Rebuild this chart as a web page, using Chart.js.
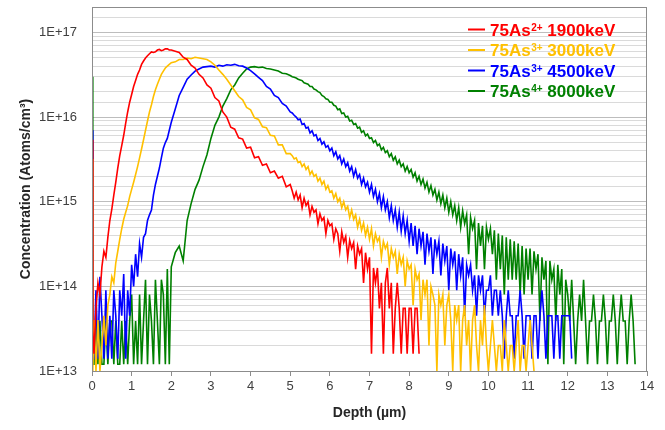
<!DOCTYPE html>
<html>
<head>
<meta charset="utf-8">
<script src="https://cdn.jsdelivr.net/npm/chart.js@4/dist/chart.umd.min.js"></script>
<style>
  html, body { margin: 0; padding: 0; background: #fff; }
  canvas { display: block; }
</style>
</head>
<body>
<canvas id="profileChart" width="665" height="430"></canvas>
<script>
// Depth (µm) shared by all four profiles: 0.05 steps near the surface and in the noisy tails
const depth = [0, 0.02,
    0.05, 0.1, 0.15, 0.2, 0.25, 0.3, 0.35, 0.4, 0.45, 0.5, 0.55, 0.6, 0.65, 0.7, 0.75, 0.8, 0.85, 0.9, 0.95, 1.0,
    1.05, 1.1, 1.15, 1.2, 1.25, 1.3, 1.35, 1.4, 1.45, 1.5, 1.55, 1.6, 1.65, 1.7, 1.75, 1.8, 1.85, 1.9, 1.95, 2.0,
    2.1, 2.2, 2.3, 2.4, 2.5, 2.6, 2.7, 2.8, 2.9, 3.0,
    3.1, 3.2, 3.3, 3.4, 3.5, 3.6, 3.7, 3.8, 3.9, 4.0,
    4.1, 4.2, 4.3, 4.4, 4.5, 4.6, 4.7, 4.8, 4.9, 5.0,
    5.05, 5.1, 5.15, 5.2, 5.25, 5.3, 5.35, 5.4, 5.45, 5.5, 5.55, 5.6, 5.65, 5.7, 5.75, 5.8, 5.85, 5.9, 5.95, 6.0,
    6.05, 6.1, 6.15, 6.2, 6.25, 6.3, 6.35, 6.4, 6.45, 6.5, 6.55, 6.6, 6.65, 6.7, 6.75, 6.8, 6.85, 6.9, 6.95, 7.0,
    7.05, 7.1, 7.15, 7.2, 7.25, 7.3, 7.35, 7.4, 7.45, 7.5, 7.55, 7.6, 7.65, 7.7, 7.75, 7.8, 7.85, 7.9, 7.95, 8.0,
    8.05, 8.1, 8.15, 8.2, 8.25, 8.3, 8.35, 8.4, 8.45, 8.5, 8.55, 8.6, 8.65, 8.7, 8.75, 8.8, 8.85, 8.9, 8.95, 9.0,
    9.05, 9.1, 9.15, 9.2, 9.25, 9.3, 9.35, 9.4, 9.45, 9.5, 9.55, 9.6, 9.65, 9.7, 9.75, 9.8, 9.85, 9.9, 9.95, 10.0,
    10.05, 10.1, 10.15, 10.2, 10.25, 10.3, 10.35, 10.4, 10.45, 10.5, 10.55, 10.6, 10.65, 10.7, 10.75, 10.8, 10.85, 10.9, 10.95, 11.0,
    11.05, 11.1, 11.15, 11.2, 11.25, 11.3, 11.35, 11.4, 11.45, 11.5, 11.55, 11.6, 11.65, 11.7, 11.75, 11.8, 11.85, 11.9, 11.95, 12.0,
    12.05, 12.1, 12.15, 12.2, 12.25, 12.3, 12.35, 12.4, 12.45, 12.5, 12.55, 12.6, 12.65, 12.7, 12.75, 12.8, 12.85, 12.9, 12.95, 13.0,
    13.05, 13.1, 13.15, 13.2, 13.25, 13.3, 13.35, 13.4, 13.45, 13.5, 13.55, 13.6, 13.65, 13.7];

// Concentrations (atoms/cm3), one value per depth point
const as1900 = [5.4e15, 3.0e13,
    1.6e13, 5.5e13, 1.1e14, 8.0e13, 1.7e14, 2.6e14, 2.2e14, 3.8e14, 6.0e14, 8.2e14,
    1.2e15, 1.7e15, 2.5e15, 3.5e15, 4.6e15, 6.1e15, 8.5e15, 1.15e16, 1.5e16, 1.85e16,
    2.3e16, 2.7e16, 3.2e16, 3.6e16, 4.2e16, 4.6e16, 5.0e16, 5.3e16, 5.6e16, 5.9e16,
    5.8e16, 5.9e16, 6.2e16, 6.3e16, 6.1e16, 6.2e16, 6.4e16, 6.4e16, 6.2e16, 6.2e16,
    6.0e16, 5.8e16, 5.1e16, 4.8e16, 4.1e16, 3.8e16, 3.2e16, 2.9e16, 2.4e16, 2.2e16,
    1.7e16, 1.55e16, 1.15e16, 1.0e16, 7.6e15, 7.2e15, 5.7e15, 5.5e15, 4.3e15, 4.4e15,
    3.3e15, 3.4e15, 2.7e15, 2.8e15, 2.2e15, 2.3e15, 1.9e15, 2.0e15, 1.5e15, 1.6e15,
    1.35e15, 1.1e15, 1.3e15, 1.05e15, 1.2e15, 8.5e14, 1.1e15, 9.0e14, 1.0e15, 7.0e14,
    8.8e14, 7.5e14, 8.0e14, 5.5e14, 7.2e14, 6.0e14, 6.5e14, 4.2e14, 6.0e14, 5.2e14,
    5.5e14, 3.6e14, 4.8e14, 4.2e14, 2.6e14, 4.4e14, 3.3e14, 3.9e14, 2.2e14, 3.5e14,
    2.8e14, 3.3e14, 1.6e14, 3.0e14, 2.4e14, 2.8e14, 1.1e14, 2.5e14, 1.6e14, 2.2e14,
    1.6e13, 1.65e14, 1.1e14, 1.65e14, 5.5e13, 1.1e14, 1.6e13, 1.1e14, 1.65e14, 5.5e13,
    1.1e14, 1.6e13, 5.5e13, 1.1e14, 5.5e13, 1.6e13, 5.5e13, 5.5e13, 1.6e13, 5.5e13,
    5.5e13, 1.6e13, 5.5e13, 5.5e13, 1.6e13];

const as3000 = [3.2e15, 1.0e13,
    4.0e13, 1.0e13, 4.0e13, 1.0e13, 2.0e13, 4.5e13, 2.0e13, 6.0e13, 8.0e13, 1.3e14,
    1.1e14, 1.9e14, 2.6e14, 3.6e14, 4.8e14, 6.2e14, 7.5e14, 9.0e14, 1.15e15, 1.4e15,
    1.7e15, 2.1e15, 2.6e15, 3.3e15, 4.2e15, 5.4e15, 7.0e15, 9.0e15, 1.15e16, 1.4e16,
    1.75e16, 2.1e16, 2.45e16, 2.8e16, 3.2e16, 3.5e16, 3.8e16, 4.0e16, 4.2e16, 4.4e16,
    4.5e16, 4.8e16, 4.8e16, 5.0e16, 4.9e16, 5.1e16, 5.0e16, 4.9e16, 4.8e16, 4.5e16,
    4.1e16, 3.6e16, 3.2e16, 2.8e16, 2.4e16, 2.05e16, 1.75e16, 1.6e16, 1.3e16, 1.22e16,
    9.8e15, 9.4e15, 7.7e15, 7.5e15, 6.1e15, 6.0e15, 4.7e15, 4.7e15, 3.7e15, 3.7e15,
    3.5e15, 3.2e15, 3.3e15, 2.9e15, 3.0e15, 2.6e15, 2.8e15, 2.4e15, 2.6e15, 2.1e15,
    2.3e15, 2.0e15, 2.1e15, 1.75e15, 1.9e15, 1.6e15, 1.75e15, 1.4e15, 1.55e15, 1.3e15,
    1.35e15, 1.1e15, 1.25e15, 1.0e15, 1.1e15, 8.5e14, 1.0e15, 8.0e14, 8.8e14, 6.5e14,
    8.0e14, 6.2e14, 7.0e14, 5.0e14, 6.2e14, 4.6e14, 5.6e14, 4.0e14, 5.0e14, 3.6e14,
    4.8e14, 3.0e14, 4.2e14, 3.4e14, 3.8e14, 2.2e14, 3.4e14, 2.8e14, 3.2e14, 1.8e14,
    2.8e14, 2.2e14, 2.6e14, 1.4e14, 2.4e14, 1.8e14, 2.2e14, 1.0e14, 2.0e14, 1.6e14,
    1.8e14, 6.0e13, 1.6e14, 1.2e14, 1.4e14, 4.0e13, 1.2e14, 8.0e13, 1.2e14, 2.0e13,
    1.0e14, 8.0e13, 6.0e13, 1.0e13, 8.0e13, 6.0e13, 8.0e13, 2.0e13, 6.0e13, 8.0e13,
    4.0e13, 1.0e13, 6.0e13, 4.0e13, 6.0e13, 1.0e13, 4.0e13, 6.0e13, 2.0e13, 4.0e13,
    1.0e13, 4.0e13, 6.0e13, 2.0e13, 1.0e13, 4.0e13, 2.0e13, 6.0e13, 2.0e13, 1.0e13,
    2.0e13, 4.0e13, 2.0e13, 1.0e13, 2.0e13, 2.0e13, 1.0e13, 4.0e13, 2.0e13, 1.0e13,
    2.0e13, 2.0e13, 1.0e13, 2.0e13, 4.0e13, 1.0e13, 2.0e13, 2.0e13, 1.0e13, 2.0e13,
    4.0e13, 2.0e13, 1.0e13];

const as4500 = [7.0e15, 1.4e13,
    1.4e13, 9.0e13, 1.4e13, 1.3e14, 4.5e13, 1.4e13, 9.0e13, 1.4e13, 4.5e13, 1.4e13,
    9.0e13, 4.5e13, 1.4e13, 9.0e13, 4.5e13, 1.4e14, 1.4e13, 9.0e13, 4.5e13, 1.8e14,
    1.0e14, 2.4e14, 1.3e14, 3.2e14, 2.2e14, 3.8e14, 4.2e14, 6.0e14, 7.0e14, 8.0e14,
    1.2e15, 1.6e15, 2.0e15, 2.5e15, 3.3e15, 4.3e15, 5.0e15, 5.6e15, 7.0e15, 8.7e15,
    1.25e16, 1.8e16, 2.25e16, 2.8e16, 3.15e16, 3.5e16, 3.7e16, 3.9e16, 3.95e16, 4.0e16,
    3.9e16, 4.1e16, 4.0e16, 4.15e16, 4.1e16, 4.2e16, 4.05e16, 4.0e16, 3.8e16, 3.55e16,
    3.25e16, 2.95e16, 2.7e16, 2.3e16, 2.15e16, 1.8e16, 1.7e16, 1.45e16, 1.35e16, 1.15e16,
    1.12e16, 1.05e16, 1.0e16, 9.3e15, 9.5e15, 8.2e15, 8.4e15, 7.4e15, 7.6e15, 6.5e15,
    6.9e15, 6.0e15, 6.2e15, 5.3e15, 5.6e15, 4.8e15, 5.1e15, 4.4e15, 4.6e15, 4.0e15,
    4.3e15, 3.5e15, 3.9e15, 3.2e15, 3.5e15, 2.8e15, 3.2e15, 2.6e15, 2.9e15, 2.3e15,
    2.6e15, 2.0e15, 2.4e15, 1.9e15, 2.1e15, 1.6e15, 1.9e15, 1.5e15, 1.7e15, 1.3e15,
    1.6e15, 1.15e15, 1.4e15, 1.0e15, 1.25e15, 8.5e14, 1.15e15, 8.0e14, 1.0e15, 6.5e14,
    9.0e14, 6.0e14, 8.0e14, 5.0e14, 7.5e14, 4.5e14, 6.8e14, 4.2e14, 6.0e14, 3.4e14,
    5.6e14, 3.0e14, 5.2e14, 2.4e14, 4.8e14, 3.0e14, 4.4e14, 1.8e14, 4.2e14, 2.6e14,
    3.8e14, 1.4e14, 3.6e14, 2.4e14, 3.4e14, 1.35e14, 3.2e14, 2.0e14, 3.0e14, 9.0e13,
    2.8e14, 1.8e14, 2.6e14, 9.0e13, 2.4e14, 1.35e14, 2.2e14, 4.5e13, 1.8e14, 1.35e14,
    1.8e14, 9.0e13, 1.35e14, 4.5e13, 1.35e14, 9.0e13, 1.35e14, 4.5e13, 9.0e13, 9.0e13,
    1.35e14, 4.5e13, 9.0e13, 9.0e13, 4.5e13, 9.0e13, 4.5e13, 1.4e13, 4.5e13, 9.0e13,
    4.5e13, 4.5e13, 1.4e13, 4.5e13, 4.5e13, 9.0e13, 4.5e13, 1.4e13, 4.5e13, 4.5e13,
    4.5e13, 1.4e13, 4.5e13, 4.5e13, 1.4e13, 4.5e13, 9.0e13, 4.5e13, 1.4e13, 4.5e13,
    4.5e13, 4.5e13, 1.4e13, 4.5e13, 4.5e13, 1.4e13, 4.5e13, 4.5e13, 4.5e13, 4.5e13,
    4.5e13, 1.4e13];

const as8000 = [3.0e16, 1.2e13,
    1.2e13, 3.9e13, 1.2e13, 3.9e13, 1.2e13, 1.2e13, 3.9e13, 1.2e13, 3.9e13, 3.9e13,
    1.2e13, 3.9e13, 1.2e13, 1.2e13, 3.9e13, 1.2e13, 3.9e13, 1.2e13, 3.9e13, 8.0e13,
    1.2e13, 3.9e13, 1.2e13, 8.0e13, 1.2e13, 3.9e13, 1.2e14, 1.2e13, 8.0e13, 3.9e13,
    1.2e13, 1.2e14, 3.9e13, 1.2e13, 1.2e14, 8.0e13, 1.2e13, 1.6e14, 1.2e13, 1.7e14,
    2.5e14, 3.0e14, 2.0e14, 6.0e14, 9.5e14, 1.4e15, 1.8e15, 2.6e15, 3.6e15, 5.6e15,
    8.0e15, 1.0e16, 1.35e16, 1.65e16, 2.1e16, 2.4e16, 2.9e16, 3.3e16, 3.7e16, 3.9e16,
    3.95e16, 3.85e16, 3.9e16, 3.75e16, 3.7e16, 3.6e16, 3.5e16, 3.3e16, 3.25e16, 3.1e16,
    3.0e16, 2.95e16, 2.9e16, 2.8e16, 2.75e16, 2.7e16, 2.55e16, 2.5e16, 2.45e16, 2.3e16,
    2.3e16, 2.15e16, 2.1e16, 2.0e16, 1.95e16, 1.8e16, 1.75e16, 1.65e16, 1.62e16, 1.5e16,
    1.5e16, 1.38e16, 1.35e16, 1.22e16, 1.25e16, 1.1e16, 1.12e16, 1.0e16, 1.02e16, 9.0e15,
    9.2e15, 8.2e15, 8.4e15, 7.4e15, 7.6e15, 6.6e15, 6.9e15, 6.0e15, 6.3e15, 5.6e15,
    5.7e15, 5.0e15, 5.3e15, 4.6e15, 4.8e15, 4.1e15, 4.4e15, 3.8e15, 4.0e15, 3.4e15,
    3.7e15, 3.1e15, 3.4e15, 2.8e15, 3.1e15, 2.6e15, 2.8e15, 2.3e15, 2.6e15, 2.2e15,
    2.4e15, 1.95e15, 2.2e15, 1.75e15, 2.0e15, 1.6e15, 1.85e15, 1.45e15, 1.7e15, 1.3e15,
    1.55e15, 1.2e15, 1.4e15, 1.05e15, 1.3e15, 9.5e14, 1.2e15, 8.5e14, 1.1e15, 7.5e14,
    1.0e15, 7.0e14, 9.0e14, 6.0e14, 8.5e14, 5.0e14, 7.8e14, 5.5e14, 7.0e14, 2.4e14,
    6.5e14, 4.8e14, 6.0e14, 1.6e14, 5.6e14, 3.0e14, 5.2e14, 1.6e14, 5.0e14, 3.6e14,
    4.8e14, 2.4e14, 4.6e14, 1.2e14, 4.2e14, 1.6e14, 4.0e14, 8.0e13, 3.8e14, 1.2e14,
    3.6e14, 1.2e14, 3.4e14, 1.2e14, 3.2e14, 8.0e13, 3.0e14, 8.0e13, 2.8e14, 1.2e14,
    2.8e14, 8.0e13, 2.6e14, 1.6e14, 2.4e14, 3.9e13, 2.2e14, 1.2e14, 2.0e14, 1.2e13,
    2.0e14, 1.2e14, 1.6e14, 3.9e13, 1.8e14, 8.0e13, 1.6e14, 1.2e13, 1.2e14, 8.0e13,
    3.9e13, 1.2e14, 3.9e13, 1.2e13, 3.9e13, 8.0e13, 3.9e13, 1.2e14, 3.9e13, 1.2e13,
    3.9e13, 3.9e13, 8.0e13, 3.9e13, 1.2e13, 3.9e13, 3.9e13, 8.0e13, 3.9e13, 1.2e13,
    3.9e13, 3.9e13, 8.0e13, 3.9e13, 1.2e13, 3.9e13, 8.0e13, 3.9e13, 3.9e13, 1.2e13,
    3.9e13, 8.0e13, 3.9e13, 1.2e13];

// Legend text pieces
const charges = ['2+', '3+', '3+', '4+'];
const energies = ['1900keV', '3000keV', '4500keV', '8000keV'];

// Axis tick labels
const yTickValues = [1e13, 1e14, 1e15, 1e16, 1e17];
const yTickLabels = ['1E+13', '1E+14', '1E+15', '1E+16', '1E+17'];

const seriesValues = [as1900, as3000, as4500, as8000];
const seriesColors = ['#FF0000', '#FFC000', '#0000FF', '#008000'];

const FONT = "'Liberation Sans', Arial, sans-serif";
Chart.defaults.font.family = FONT;

function decadeIndex(v) {
    return yTickValues.findIndex(t => Math.abs(v / t - 1) < 1e-6);
}

// Plot frame + legend drawn inside the plot area
const frameAndLegend = {
    id: 'frameAndLegend',
    afterDraw(chart) {
        const {ctx, chartArea: a} = chart;
        ctx.save();
        ctx.strokeStyle = '#8c8c8c';
        ctx.lineWidth = 1;
        ctx.strokeRect(a.left + 0.5, a.top + 0.5, a.right - a.left - 1, a.bottom - a.top);

        chart.data.datasets.forEach((ds, i) => {
            const base = 35.5 + i * 20.5;
            ctx.strokeStyle = ds.borderColor;
            ctx.lineWidth = 2;
            ctx.beginPath();
            ctx.moveTo(468, base - 6);
            ctx.lineTo(485, base - 6);
            ctx.stroke();

            ctx.fillStyle = ds.borderColor;
            ctx.textBaseline = 'alphabetic';
            ctx.textAlign = 'left';
            ctx.font = 'bold 17px ' + FONT;
            let x = 490;
            ctx.fillText('75As', x, base);
            x += ctx.measureText('75As').width + 0.5;
            ctx.font = 'bold 10px ' + FONT;
            ctx.fillText(charges[i], x, base - 5);
            x += ctx.measureText(charges[i]).width;
            ctx.font = 'bold 17px ' + FONT;
            ctx.fillText(' ' + energies[i], x, base);
        });
        ctx.restore();
    }
};

const ctx = document.getElementById('profileChart').getContext('2d');
const profileChart = new Chart(ctx, {
    type: 'line',
    data: {
        datasets: seriesValues.map((vals, i) => ({
            label: '75As' + charges[i] + ' ' + energies[i],
            data: vals.map((v, k) => ({x: depth[k], y: v})),
            borderColor: seriesColors[i],
            backgroundColor: seriesColors[i],
            borderWidth: 1.6,
            pointRadius: 0,
            tension: 0,
            fill: false
        }))
    },
    options: {
        responsive: false,
        animation: false,
        layout: {padding: {top: 7, right: 18, left: 0, bottom: 0}},
        plugins: {
            legend: {display: false},
            tooltip: {enabled: false}
        },
        scales: {
            x: {
                type: 'linear',
                min: 0,
                max: 14,
                ticks: {
                    stepSize: 1,
                    color: '#404040',
                    font: {size: 13},
                    padding: 3,
                    maxRotation: 0
                },
                grid: {drawOnChartArea: false, tickLength: 5, color: '#8c8c8c'},
                border: {color: '#8c8c8c'},
                title: {
                    display: true,
                    text: 'Depth (µm)',
                    color: '#262626',
                    font: {size: 14, weight: 'bold'},
                    padding: {top: 4, bottom: 8}
                },
                afterFit(scale) { scale.height = 59; }
            },
            y: {
                type: 'logarithmic',
                min: 1e13,
                max: 2e17,
                ticks: {
                    autoSkip: false,
                    color: '#404040',
                    font: {size: 13},
                    padding: 15,
                    callback: (v) => {
                        const i = decadeIndex(v);
                        return i >= 0 ? yTickLabels[i] : '';
                    }
                },
                grid: {
                    drawTicks: false,
                    color: (c) => decadeIndex(c.tick.value) >= 0 ? '#bdbdbd' : '#dadada'
                },
                border: {color: '#8c8c8c'},
                title: {
                    display: true,
                    text: 'Concentration (Atoms/cm³)',
                    color: '#262626',
                    font: {size: 14, weight: 'bold'},
                    padding: {top: 18, bottom: 4}
                },
                afterFit(scale) {
                    scale.width = 92;
                    scale.paddingTop = 0;
                    scale.paddingBottom = 0;
                }
            }
        }
    },
    plugins: [frameAndLegend]
});
</script>
</body>
</html>
